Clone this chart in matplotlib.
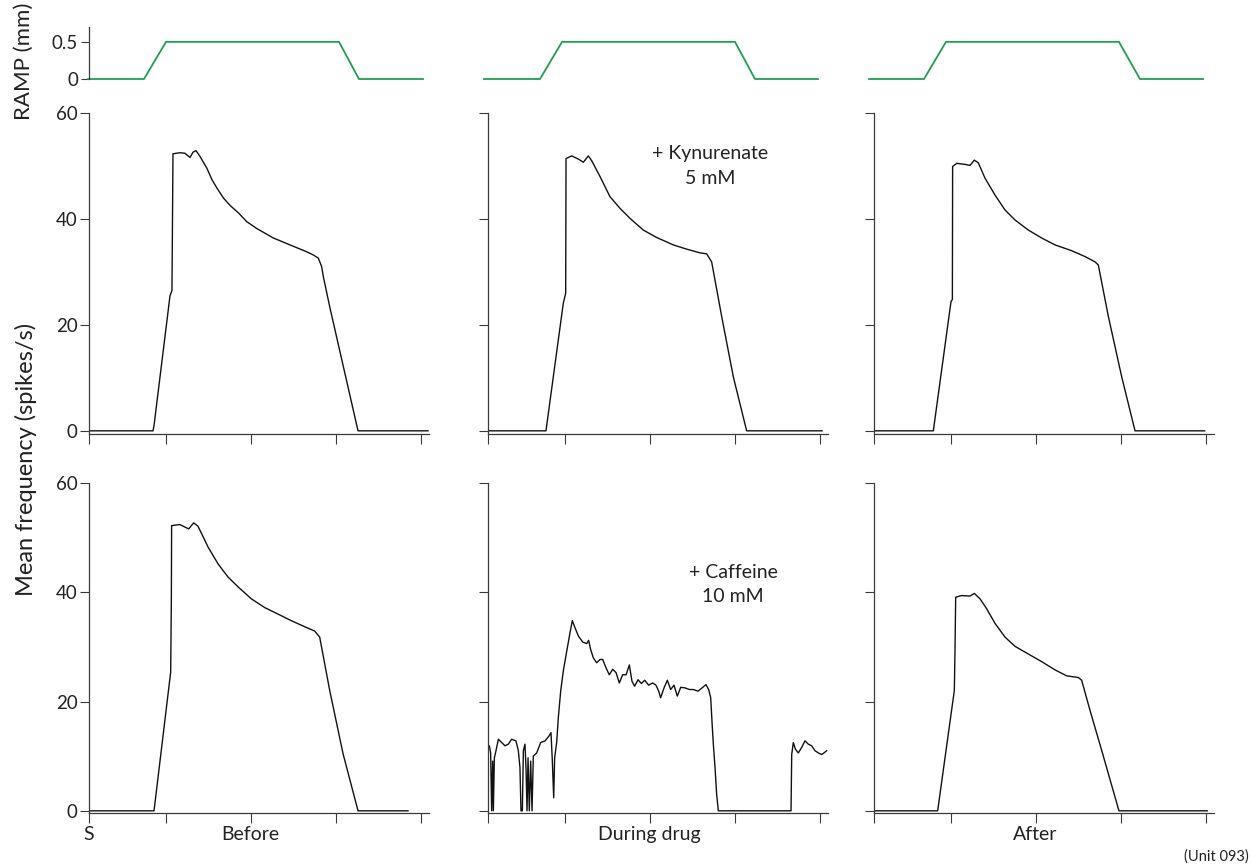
import matplotlib
matplotlib.use("Agg")
import matplotlib.pyplot as plt

plt.rcParams['font.family'] = ['Lato', 'DejaVu Sans']

# ---------------- data (time in s, frequency in spikes/s, ramp in mm) ----------------
xticks = [0.0, 0.9, 1.9, 2.9, 3.9]
yticks = [0, 20, 40, 60]
ramp_ticks = [0, 0.5]

ramp_t_before = [-0.01, 0.647, 0.906, 2.941, 3.176, 3.929]
ramp_t_during = [-0.047, 0.612, 0.871, 2.906, 3.141, 3.882]
ramp_t_after = [-0.059, 0.588, 0.847, 2.882, 3.129, 3.871]
ramp_mm = [0, 0, 0.5, 0.5, 0, 0]

# Row 1: kynurenate experiment
kyn_before_t = [0.0, 0.753, 0.765, 0.953, 0.976, 0.988, 1.071, 1.129, 1.188, 1.224,
                1.259, 1.306, 1.386, 1.447, 1.506, 1.584, 1.663, 1.761, 1.855, 1.973,
                2.169, 2.365, 2.561, 2.639, 2.698, 2.737, 2.757, 2.835, 2.953, 3.071,
                3.165, 3.988]
kyn_before_f = [0, 0, 1, 25.5, 26.5, 52.3, 52.5, 52.4, 51.6, 52.6,
                52.9, 51.8, 49.6, 47.4, 45.8, 43.9, 42.5, 41.1, 39.5, 38.2,
                36.4, 35.1, 33.8, 33.2, 32.6, 31.0, 29.1, 23.2, 14.9, 6.6,
                0, 0]

kyn_during_t = [0.0, 0.682, 0.886, 0.914, 0.918, 0.985, 1.063, 1.122, 1.18, 1.22,
                1.318, 1.435, 1.553, 1.671, 1.827, 1.984, 2.18, 2.337, 2.494, 2.573,
                2.631, 2.749, 2.886, 3.043, 3.93]
kyn_during_f = [0, 0, 24.1, 26.0, 51.4, 51.9, 51.3, 50.7, 51.9, 51.0,
                48.0, 44.2, 42.0, 40.1, 37.9, 36.5, 35.1, 34.3, 33.6, 33.4,
                31.9, 21.6, 10.2, 0, 0]

kyn_after_t = [0.0, 0.698, 0.906, 0.922, 0.925, 0.973, 1.071, 1.129, 1.18, 1.227,
               1.306, 1.424, 1.541, 1.659, 1.816, 1.973, 2.129, 2.326, 2.482, 2.6,
               2.639, 2.757, 2.914, 3.071, 3.89]
kyn_after_f = [0, 0, 24.4, 24.8, 49.9, 50.5, 50.3, 50.1, 51.1, 50.6,
               47.7, 44.5, 41.7, 39.8, 37.9, 36.4, 35.1, 34.0, 32.9, 31.9,
               31.3, 21.6, 10.2, 0, 0]

# Row 2: caffeine experiment
caf_before_t = [0.0, 0.765, 0.961, 0.969, 0.972, 1.067, 1.173, 1.231, 1.282, 1.4,
                1.518, 1.635, 1.753, 1.91, 2.067, 2.224, 2.38, 2.537, 2.655, 2.714,
                2.831, 2.988, 3.165, 3.753]
caf_before_f = [0, 0, 25.4, 39.1, 52.2, 52.4, 51.6, 52.7, 52.1, 48.3,
                45.2, 42.8, 41.0, 38.8, 37.2, 36.0, 34.8, 33.7, 32.9, 31.8,
                22.1, 10.5, 0, 0]

caf_during_t = [0.0, 0.016, 0.031, 0.043, 0.055, 0.063, 0.075, 0.094, 0.122, 0.161,
                0.2, 0.239, 0.278, 0.329, 0.357, 0.376, 0.388, 0.404, 0.416, 0.435,
                0.447, 0.459, 0.471, 0.486, 0.502, 0.518, 0.533, 0.573, 0.62, 0.671,
                0.718, 0.741, 0.757, 0.773, 0.784, 0.808, 0.827, 0.855, 0.886, 0.926,
                0.965, 0.992, 1.024, 1.063, 1.114, 1.161, 1.184, 1.208, 1.239, 1.278,
                1.318, 1.349, 1.388, 1.427, 1.467, 1.506, 1.545, 1.584, 1.624, 1.663,
                1.694, 1.725, 1.765, 1.804, 1.843, 1.89, 1.937, 1.976, 2.008, 2.031,
                2.071, 2.11, 2.149, 2.188, 2.227, 2.267, 2.318, 2.369, 2.416, 2.471,
                2.518, 2.565, 2.596, 2.62, 2.635, 2.651, 2.671, 2.69, 2.71, 3.565,
                3.573, 3.592, 3.616, 3.651, 3.69, 3.729, 3.769, 3.808, 3.847, 3.886,
                3.925, 3.953, 3.984]
caf_during_f = [11.6, 11.9, 10.6, 0, 9.1, 0, 9.7, 11.0, 13.1, 12.5,
                11.9, 12.2, 13.1, 12.8, 11.0, 7.9, 0, 0, 11.0, 12.2,
                7.9, 0, 9.7, 0, 9.1, 0, 10.0, 10.6, 12.5, 12.8,
                13.7, 14.3, 9.1, 2.4, 9.7, 12.5, 17.0, 21.9, 25.6, 29.2,
                32.6, 34.8, 33.5, 32.0, 30.9, 30.6, 31.2, 29.5, 28.0, 27.1,
                27.7, 27.7, 26.2, 24.9, 25.9, 25.3, 23.4, 24.9, 24.9, 26.7,
                23.7, 22.8, 24.0, 23.3, 23.9, 23.0, 23.4, 23.0, 21.9, 20.7,
                22.5, 23.9, 22.2, 23.0, 21.0, 22.6, 22.5, 22.2, 22.2, 21.9,
                22.5, 23.1, 22.2, 20.7, 16.4, 12.2, 7.9, 3.0, 0, 0,
                10.3, 12.5, 11.3, 10.6, 11.6, 12.8, 12.2, 11.9, 11.0, 10.6,
                10.3, 10.6, 11.0]

caf_after_t = [0.0, 0.749, 0.945, 0.953, 0.961, 1.031, 1.129, 1.18, 1.247, 1.325,
               1.424, 1.541, 1.659, 1.816, 1.973, 2.129, 2.267, 2.404, 2.443, 2.541,
               2.678, 2.882, 3.92]
caf_after_f = [0, 0, 22.0, 29.4, 39.1, 39.4, 39.3, 39.8, 38.8, 37.0,
               34.3, 31.8, 30.1, 28.7, 27.3, 25.8, 24.7, 24.4, 23.9, 18.4,
               11.1, 0, 0]

ramp_ts = [ramp_t_before, ramp_t_during, ramp_t_after]
row1 = [(kyn_before_t, kyn_before_f), (kyn_during_t, kyn_during_f), (kyn_after_t, kyn_after_f)]
row2 = [(caf_before_t, caf_before_f), (caf_during_t, caf_during_f), (caf_after_t, caf_after_f)]
col_labels = ["Before", "During drug", "After"]

# ---------------- figure ----------------
W, H = 1254, 866
fig = plt.figure(figsize=(W / 100, H / 100), dpi=100)

SPINE = '#3a3a3a'
TRACE = '#111111'
GREEN = '#1f9e4f'
TXT = '#222222'
FS = 14
TFS = 13.5


def add_ax(x0, top, w, h):
    return fig.add_axes([x0 / W, 1 - (top + h) / H, w / W, h / H])


col_x = [89, 488, 874]
col_w = 340

for ci in range(3):
    # ramp panel
    ar = add_ax(col_x[ci], 27, col_w, 52)
    ar.plot(ramp_ts[ci], ramp_mm, color=GREEN, lw=1.3, clip_on=False)
    ar.set_xlim(0, 4)
    ar.set_ylim(0, 0.7)
    for s in ['top', 'right', 'bottom']:
        ar.spines[s].set_visible(False)
    ar.set_xticks([])
    if ci == 0:
        ar.spines['left'].set_color(SPINE)
        ar.spines['left'].set_linewidth(0.9)
        ar.set_yticks(ramp_ticks)
        ar.set_yticklabels(['0', '0.5'])
        ar.tick_params(axis='y', direction='out', length=6, width=0.8, color=SPINE,
                       labelsize=TFS, pad=2, labelcolor=TXT)
    else:
        ar.spines['left'].set_visible(False)
        ar.set_yticks([])
    ar.patch.set_alpha(0)

    for ri, (top, h, ylo, data) in enumerate([(113, 321, -0.6, row1), (483, 330, -0.4, row2)]):
        ax = add_ax(col_x[ci], top, col_w, h)
        t, f = data[ci]
        ax.plot(t, f, color=TRACE, lw=1.0)
        ax.set_xlim(0, 4)
        ax.set_ylim(ylo, 60)
        for s in ['top', 'right']:
            ax.spines[s].set_visible(False)
        for s in ['left', 'bottom']:
            ax.spines[s].set_color(SPINE)
            ax.spines[s].set_linewidth(0.9)
        ax.set_xticks(xticks)
        ax.set_xticklabels([])
        ax.set_yticks(yticks)
        if ci == 0:
            ax.set_yticklabels([str(v) for v in yticks])
        else:
            ax.set_yticklabels([])
        ax.tick_params(axis='y', direction='out', length=6.3, width=0.8, color=SPINE,
                       labelsize=TFS, pad=2, labelcolor=TXT)
        ax.tick_params(axis='x', direction='out', length=7.2, width=0.8, color=SPINE)
        ax.patch.set_alpha(0)
        if ri == 1:
            ax.text(xticks[2], -0.040, col_labels[ci], transform=ax.get_xaxis_transform(),
                    ha='center', va='top', fontsize=FS, color=TXT)
            if ci == 0:
                ax.text(xticks[0], -0.040, 'S', transform=ax.get_xaxis_transform(),
                        ha='center', va='top', fontsize=FS, color=TXT)

# axis titles
fig.text(26 / W, 1 - 459 / H, 'Mean frequency (spikes/s)', rotation=90,
         ha='center', va='center', fontsize=17, color=TXT)
fig.text(24 / W, 1 - 61 / H, 'RAMP (mm)', rotation=90,
         ha='center', va='center', fontsize=16, color=TXT)

# drug annotations
fig.text(710 / W, 1 - 166 / H, '+ Kynurenate\n5 mM', ha='center', va='center',
         fontsize=FS, color=TXT, linespacing=1.5)
fig.text(733 / W, 1 - 585 / H, '+ Caffeine\n10 mM', ha='center', va='center',
         fontsize=FS, color=TXT, linespacing=1.5)

fig.text(1249 / W, 1 - 857 / H, '(Unit 093)', ha='right', va='center',
         fontsize=10.5, color=TXT)

fig.savefig('out.png', dpi=100)
